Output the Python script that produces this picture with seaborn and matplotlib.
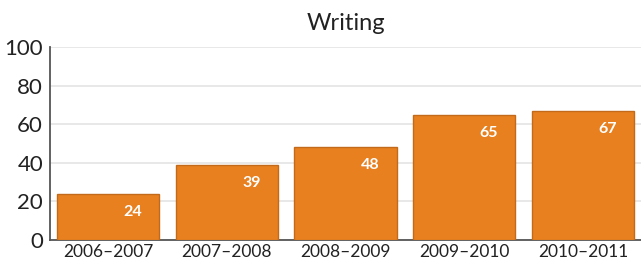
import pandas as pd
import seaborn as sns
import matplotlib.pyplot as plt

# data
years = ['2006–2007', '2007–2008', '2008–2009', '2009–2010', '2010–2011']
writing = [24, 39, 48, 65, 67]

df = pd.DataFrame({'year': years, 'score': writing})

sns.set_style('white')
plt.rcParams['font.family'] = ['Lato', 'DejaVu Sans']

fig = plt.figure(figsize=(6.41, 2.63), dpi=100)
ax = fig.add_axes([0.078, 0.0875, 0.922, 0.7335])

sns.barplot(data=df, x='year', y='score', color='#E8801F', saturation=1,
            width=0.86, edgecolor='#C2691A', linewidth=1, ax=ax, zorder=3)

ax.set_ylim(0, 100)
ax.set_xlim(-0.49, 4.49)
ax.set_yticks(range(0, 101, 20))
ax.grid(axis='y', color='#E6E6E6', linewidth=1.3, zorder=0)
ax.set_axisbelow(True)

for s in ['top', 'right']:
    ax.spines[s].set_visible(False)
for s in ['left', 'bottom']:
    ax.spines[s].set_color('#555555')
    ax.spines[s].set_linewidth(1.3)

ax.tick_params(axis='y', length=0, labelsize=16, colors='#222222', pad=5)
ax.tick_params(axis='x', length=0, labelsize=12.5, colors='#222222', pad=3)
ax.set_xticks([0.5, 1.5, 2.5, 3.5], minor=True)
ax.tick_params(axis='x', which='minor', direction='in', length=4,
               color='#333333', width=1)

ax.set_xlabel('')
ax.set_ylabel('')
ax.set_title('Writing', fontsize=17, color='#222222', pad=12)

# value labels, right side of each bar, just under the top
for i, v in enumerate(writing):
    ax.annotate(str(v), (i + 0.21, v), xytext=(0, -13), textcoords='offset points',
                ha='center', va='center', color='white', fontsize=11.5,
                fontweight='bold', zorder=5)

plt.savefig('out.png', dpi=100)
